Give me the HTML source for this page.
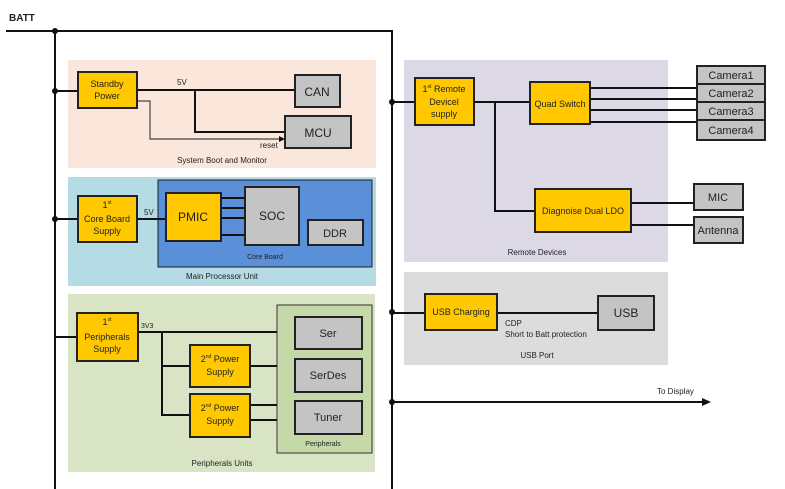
<!DOCTYPE html>
<html><head><meta charset="utf-8"><style>
html,body{margin:0;padding:0;background:#fff;}
svg{display:block;font-family:"Liberation Sans",sans-serif;}
.y{fill:#ffc800;stroke:#222;stroke-width:2}
.g{fill:#c4c4c4;stroke:#222;stroke-width:2}
.l{stroke:#111;stroke-width:2;fill:none}
text{fill:#222}
</style></head><body>
<svg width="785" height="489" viewBox="0 0 785 489">
<!-- panels -->
<rect x="68" y="60" width="308" height="108" fill="#fbe6dc"/>
<rect x="68" y="177" width="308" height="109" fill="#b5dbe5"/>
<rect x="158" y="180" width="214" height="87" fill="#5b8fd8" stroke="#222" stroke-width="1"/>
<rect x="68" y="294" width="307" height="178" fill="#d8e4c4"/>
<rect x="277" y="305" width="95" height="148" fill="#c4d8a8" stroke="#333" stroke-width="1"/>
<rect x="404" y="60" width="264" height="202" fill="#ddd8e6"/>
<rect x="404" y="272" width="264" height="93" fill="#dcdcdc"/>

<!-- bus -->
<text x="9" y="21" font-size="10" font-weight="bold">BATT</text>
<polyline class="l" points="6,31 392,31 392,489"/>
<line class="l" x1="55" y1="31" x2="55" y2="489"/>
<g fill="#111"><circle cx="55" cy="31" r="3"/><circle cx="55" cy="91" r="3"/><circle cx="55" cy="219" r="3"/><circle cx="392" cy="102" r="3"/><circle cx="392" cy="312" r="3"/><circle cx="392" cy="402" r="3"/></g>
<line class="l" x1="55" y1="91" x2="78" y2="91"/>
<line class="l" x1="55" y1="219" x2="78" y2="219"/>
<line class="l" x1="55" y1="337" x2="77" y2="337"/>

<!-- system boot -->
<line class="l" x1="137" y1="90" x2="295" y2="90"/>
<polyline class="l" points="195,90 195,132 285,132"/>
<polyline stroke="#444" stroke-width="1.2" fill="none" points="137,101 150,101 150,139 280,139"/>
<polygon points="285,139 279,136 279,142" fill="#111"/>
<rect class="y" x="78" y="72" width="59" height="36"/>
<text x="107" y="87" font-size="9" text-anchor="middle">Standby</text>
<text x="107" y="99" font-size="9" text-anchor="middle">Power</text>
<text x="177" y="85" font-size="8">5V</text>
<rect class="g" x="295" y="75" width="45" height="32"/>
<text x="317" y="96" font-size="12" text-anchor="middle">CAN</text>
<rect class="g" x="285" y="116" width="66" height="32"/>
<text x="318" y="137" font-size="12" text-anchor="middle">MCU</text>
<text x="260" y="148" font-size="8">reset</text>
<text x="222" y="163" font-size="8" text-anchor="middle">System Boot and Monitor</text>

<!-- main proc -->
<line class="l" x1="137" y1="219" x2="166" y2="219"/>
<rect class="y" x="78" y="196" width="59" height="46"/>
<text x="107" y="208" font-size="9" text-anchor="middle">1<tspan font-size="5" dy="-4">st</tspan></text>
<text x="107" y="222" font-size="9" text-anchor="middle">Core Board</text>
<text x="107" y="234" font-size="9" text-anchor="middle">Supply</text>
<text x="144" y="215" font-size="8">5V</text>
<g class="l"><line x1="221" y1="198" x2="245" y2="198"/><line x1="221" y1="208" x2="245" y2="208"/><line x1="221" y1="218" x2="245" y2="218"/><line x1="221" y1="235" x2="245" y2="235"/></g>
<rect class="y" x="166" y="193" width="55" height="48"/>
<text x="193" y="221" font-size="12" text-anchor="middle">PMIC</text>
<rect class="g" x="245" y="187" width="54" height="58"/>
<text x="272" y="220" font-size="12" text-anchor="middle">SOC</text>
<rect class="g" x="308" y="220" width="55" height="25"/>
<text x="335" y="237" font-size="11" text-anchor="middle">DDR</text>
<text x="265" y="259" font-size="7" text-anchor="middle">Core Board</text>
<text x="222" y="279" font-size="8" text-anchor="middle">Main Processor Unit</text>

<!-- peripherals -->
<line class="l" x1="138" y1="332" x2="277" y2="332"/>
<polyline class="l" points="162,332 162,415 190,415"/>
<line class="l" x1="162" y1="366" x2="190" y2="366"/>
<line class="l" x1="250" y1="366" x2="277" y2="366"/>
<line class="l" x1="250" y1="405" x2="277" y2="405"/>
<line class="l" x1="250" y1="420" x2="277" y2="420"/>
<rect class="y" x="77" y="313" width="61" height="48"/>
<text x="107" y="325" font-size="9" text-anchor="middle">1<tspan font-size="5" dy="-4">st</tspan></text>
<text x="107" y="340" font-size="9" text-anchor="middle">Peripherals</text>
<text x="107" y="352" font-size="9" text-anchor="middle">Supply</text>
<text x="141" y="328" font-size="7">3V3</text>
<rect class="y" x="190" y="345" width="60" height="42"/>
<text x="220" y="362" font-size="9" text-anchor="middle">2<tspan font-size="5" dy="-4">nd</tspan><tspan dy="4"> Power</tspan></text>
<text x="220" y="375" font-size="9" text-anchor="middle">Supply</text>
<rect class="y" x="190" y="394" width="60" height="43"/>
<text x="220" y="411" font-size="9" text-anchor="middle">2<tspan font-size="5" dy="-4">nd</tspan><tspan dy="4"> Power</tspan></text>
<text x="220" y="424" font-size="9" text-anchor="middle">Supply</text>
<rect class="g" x="295" y="317" width="67" height="32"/>
<text x="328" y="337" font-size="11" text-anchor="middle">Ser</text>
<rect class="g" x="295" y="359" width="67" height="33"/>
<text x="328" y="379" font-size="11" text-anchor="middle">SerDes</text>
<rect class="g" x="295" y="401" width="67" height="33"/>
<text x="328" y="421" font-size="11" text-anchor="middle">Tuner</text>
<text x="323" y="446" font-size="7" text-anchor="middle">Peripherals</text>
<text x="222" y="466" font-size="8" text-anchor="middle">Peripherals Units</text>

<!-- remote -->
<line class="l" x1="392" y1="102" x2="415" y2="102"/>
<line class="l" x1="474" y1="102" x2="530" y2="102"/>
<polyline class="l" points="495,102 495,211 535,211"/>
<g class="l"><line x1="590" y1="88" x2="697" y2="88"/><line x1="590" y1="99" x2="697" y2="99"/><line x1="590" y1="110" x2="697" y2="110"/><line x1="590" y1="122" x2="697" y2="122"/>
<line x1="631" y1="203" x2="694" y2="203"/><line x1="631" y1="225" x2="694" y2="225"/></g>
<rect class="y" x="415" y="78" width="59" height="47"/>
<text x="444" y="92" font-size="9" text-anchor="middle">1<tspan font-size="5" dy="-4">st</tspan><tspan dy="4"> Remote</tspan></text>
<text x="444" y="105" font-size="9" text-anchor="middle">Devicel</text>
<text x="444" y="117" font-size="9" text-anchor="middle">supply</text>
<rect class="y" x="530" y="82" width="60" height="42"/>
<text x="560" y="107" font-size="9" text-anchor="middle">Quad Switch</text>
<rect class="y" x="535" y="189" width="96" height="43"/>
<text x="583" y="214" font-size="9" text-anchor="middle">Diagnoise Dual LDO</text>
<rect class="g" x="697" y="66" width="68" height="18"/>
<rect class="g" x="697" y="84" width="68" height="18"/>
<rect class="g" x="697" y="102" width="68" height="18"/>
<rect class="g" x="697" y="120" width="68" height="20"/>
<g font-size="11" text-anchor="middle"><text x="731" y="79">Camera1</text><text x="731" y="97">Camera2</text><text x="731" y="115">Camera3</text><text x="731" y="134">Camera4</text></g>
<rect class="g" x="694" y="184" width="49" height="26"/>
<text x="718" y="201" font-size="11" text-anchor="middle">MIC</text>
<rect class="g" x="694" y="217" width="49" height="26"/>
<text x="718" y="234" font-size="11" text-anchor="middle">Antenna</text>
<text x="537" y="255" font-size="8" text-anchor="middle">Remote Devices</text>

<!-- usb -->
<line class="l" x1="392" y1="313" x2="425" y2="313"/>
<line class="l" x1="497" y1="313" x2="598" y2="313"/>
<rect class="y" x="425" y="294" width="72" height="36"/>
<text x="461" y="315" font-size="9" text-anchor="middle">USB Charging</text>
<rect class="g" x="598" y="296" width="56" height="34"/>
<text x="626" y="317" font-size="12" text-anchor="middle">USB</text>
<text x="505" y="326" font-size="8">CDP</text>
<text x="505" y="337" font-size="8">Short to Batt protection</text>
<text x="537" y="358" font-size="8" text-anchor="middle">USB Port</text>

<!-- to display -->
<line class="l" x1="392" y1="402" x2="704" y2="402"/>
<polygon points="711,402 702,398 702,406" fill="#111"/>
<text x="657" y="394" font-size="8">To Display</text>
</svg>
</body></html>
